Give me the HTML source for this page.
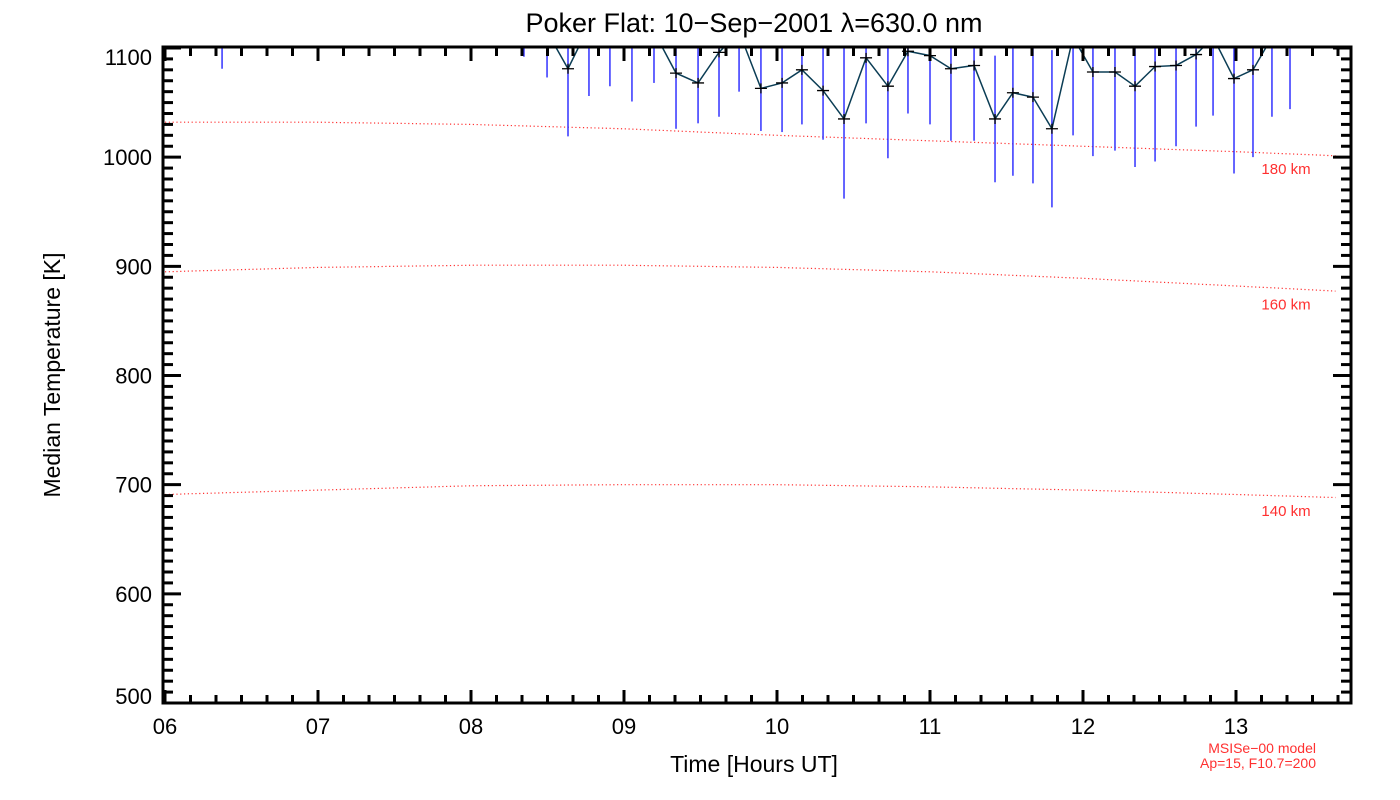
<!DOCTYPE html>
<html><head><meta charset="utf-8"><style>
html,body{margin:0;padding:0;background:#fff;}
svg{display:block;font-family:"Liberation Sans",sans-serif;}
</style></head><body>
<svg id="chart" width="1400" height="800" viewBox="0 0 1400 800" xmlns="http://www.w3.org/2000/svg">
<defs><clipPath id="plotclip"><rect x="163" y="48" width="1188" height="655"/></clipPath></defs>
<text x="754" y="32" font-size="27" text-anchor="middle" fill="#000">Poker Flat: 10−Sep−2001 λ=630.0 nm</text>
<text x="754" y="772" font-size="23" text-anchor="middle" fill="#000">Time [Hours UT]</text>
<text x="0" y="0" font-size="23" text-anchor="middle" fill="#000" transform="translate(60,375) rotate(-90)">Median Temperature [K]</text>
<g id="grid"></g>
<g id="series" clip-path="url(#plotclip)"></g>
<g id="axes"></g>
<text x="1316" y="753" font-size="14" text-anchor="end" fill="#ff3030">MSISe−00 model</text>
<text x="1316" y="768" font-size="14" text-anchor="end" fill="#ff3030">Ap=15, F10.7=200</text>
</svg>
<script>
const times=[6.373,8.346,8.497,8.634,8.771,8.908,9.052,9.196,9.340,9.484,9.621,9.752,9.895,10.033,10.163,10.301,10.438,10.582,10.725,10.856,11.0,11.137,11.288,11.425,11.542,11.673,11.797,11.935,12.065,12.209,12.340,12.471,12.608,12.739,12.85,12.987,13.111,13.235,13.353];
const medians=[1120,1120,1115,1081,1120,1125,1120,1115,1077,1068,1096,1115,1063,1068,1080,1061,1035,1091,1065,1097,1093,1081,1084,1035,1059,1055,1026,1110,1078,1078,1065,1083,1084,1094,1110,1072,1080,1110,1115];
const lows=[1081,1092,1073,1019,1056,1065,1051,1068,1026,1031,1037,1060,1024,1023,1030,1016,962,1031,999,1040,1030,1015,1015,977,983,976,954,1020,1001,1006,991,996,1010,1028,1038,985,1000,1037,1044];
const modelTimes=[6,7,8,9,10,11,12,13,13.7];
const model180=[1032,1032,1030,1026,1020,1015,1010,1005,1001];
const model160=[895,899,901,901,899,895,889,882,877];
const model140=[691,695,699,700,700,698,695,691,688];
const modelNames=['180 km','160 km','140 km'];
const xTicks=['06','07','08','09','10','11','12','13'];
const yTicks=[500,600,700,800,900,1000,1100];

const NS='http://www.w3.org/2000/svg';
const X0=163,X1=1351,Y0=703,Y1=48;
const xs=h=>165+(h-6)*153;
const ys=t=>Y0-(t-500)*(Y0-Y1)/600;
function mk(tag,attrs,parent){const e=document.createElementNS(NS,tag);for(const k in attrs)e.setAttribute(k,attrs[k]);parent.appendChild(e);return e;}
const series=document.getElementById('series');
const axes=document.getElementById('axes');
const grid=document.getElementById('grid');

[model180,model160,model140].forEach((arr,i)=>{
  const pts=[];
  for(let h=6;h<=13.7;h+=0.05){
    let j=0;while(j<modelTimes.length-2&&h>modelTimes[j+1])j++;
    const f=(h-modelTimes[j])/(modelTimes[j+1]-modelTimes[j]);
    pts.push(xs(h).toFixed(1)+','+ys(arr[j]+f*(arr[j+1]-arr[j])).toFixed(1));
  }
  const p=mk('polyline',{points:pts.join(' '),fill:'none',stroke:'#ff3030','stroke-width':1.2,'stroke-dasharray':'1.2 2.6'},grid);
  
  
  const t=mk('text',{x:1286,y:ys(arr[arr.length-1])+18,'font-size':15,'text-anchor':'middle',fill:'#ff3030'},grid);
  t.textContent=modelNames[i];
  
  
});

times.forEach((h,i)=>{
  const d=medians[i]-lows[i];
  const l=mk('line',{x1:xs(h),x2:xs(h),y1:ys(medians[i]+d),y2:ys(lows[i]),stroke:'#3333ff','stroke-width':1.5},series);
  
  
});
const line=mk('polyline',{points:times.map((h,i)=>xs(h)+','+ys(medians[i])).join(' '),fill:'none',stroke:'#0b3d55','stroke-width':1.5},series);


times.forEach((h,i)=>{
  const x=xs(h),y=ys(medians[i]);
  const p=mk('path',{d:`M${x-6},${y}H${x+6}M${x},${y-5}V${y+5}`,stroke:'#000','stroke-width':1.3},series);
  
  
});

const fr=mk('rect',{x:X0,y:Y1-1,width:X1-X0,height:Y0-Y1+1,fill:'none',stroke:'#000','stroke-width':3},axes);


for(let k=0;k<=46;k++){
  const h=6+k/6;if(h>13.78)break;const x=xs(h);const major=k%6===0;const L=major?13:8;
  mk('line',{x1:x,x2:x,y1:Y1,y2:Y1+L,stroke:'#000','stroke-width':3},axes);
  mk('line',{x1:x,x2:x,y1:Y0,y2:Y0-L,stroke:'#000','stroke-width':3},axes);
}
xTicks.forEach((s,i)=>{
  const t=mk('text',{x:xs(6+i),y:734,'font-size':22,'text-anchor':'middle',fill:'#000'},axes);
  t.textContent=s;
  
  
});
for(let v=500;v<=1100;v+=10){
  const y=ys(v);const major=v%100===0;const L=major?18:10;
  mk('line',{x1:X0,x2:X0+L,y1:y,y2:y,stroke:'#000','stroke-width':3},axes);
  mk('line',{x1:X1,x2:X1-L,y1:y,y2:y,stroke:'#000','stroke-width':3},axes);
}
yTicks.forEach(v=>{
  const y=Math.min(Math.max(ys(v),57),696);
  const t=mk('text',{x:152,y:y+8,'font-size':22,'text-anchor':'end',fill:'#000'},axes);
  t.textContent=v;
  
  
});
</script>
</body></html>
